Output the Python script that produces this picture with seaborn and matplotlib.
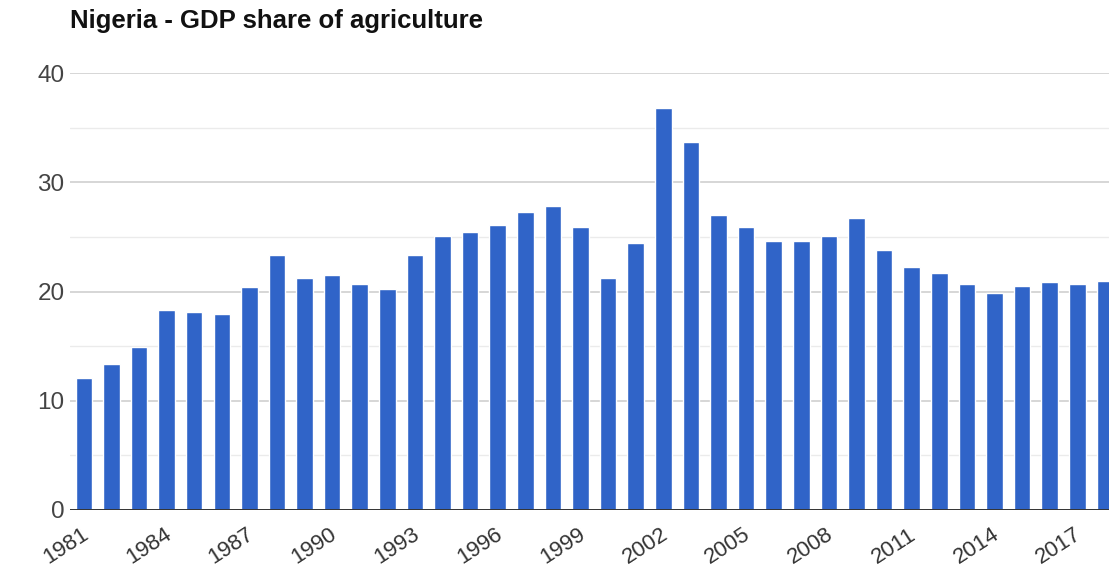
import matplotlib.pyplot as plt
import matplotlib.transforms as mtransforms
import seaborn as sns

# Nigeria, agriculture share of GDP (%)
years = [str(y) for y in range(1981, 2019)]
share = [12.1, 13.4, 14.9, 18.3, 18.1, 17.9, 20.4, 23.3, 21.2, 21.5,
         20.7, 20.2, 23.3, 25.1, 25.45, 26.05, 27.3, 27.8, 25.9, 21.2,
         24.4, 36.8, 33.7, 27.0, 25.9, 24.6, 24.6, 25.1, 26.7, 23.8,
         22.2, 21.7, 20.7, 19.9, 20.5, 20.85, 20.7, 21.0]
y_ticks = [0, 10, 20, 30, 40]
y_minor = [5, 15, 25, 35]

sns.set_style("white")
plt.rcParams['font.family'] = ['Liberation Sans', 'DejaVu Sans']

fig = plt.figure(figsize=(11.09, 5.70), dpi=100)
ax = fig.add_axes([70 / 1109, 60 / 570, 1 - 70 / 1109, 437 / 570])

sns.barplot(x=years, y=share, color="#3064c8", saturation=1,
            width=0.6, ax=ax, zorder=3)

# gridlines
ax.set_ylim(0, 40)
ax.set_xlim(-0.5, 37.15)
ax.set_yticks(y_ticks)
ax.set_yticks(y_minor, minor=True)
ax.grid(axis='y', which='major', color='#cccccc', linewidth=1.1, zorder=0)
ax.grid(axis='y', which='minor', color='#ebebeb', linewidth=1.0, zorder=0)
ax.axhline(0, color='#333333', linewidth=1.4, zorder=4)

for side in ['top', 'right', 'left', 'bottom']:
    ax.spines[side].set_visible(False)

ax.tick_params(axis='y', which='both', length=0, pad=4,
               labelsize=17.5, labelcolor='#444444')
ax.tick_params(axis='x', length=0, pad=10, labelsize=16,
               labelcolor='#333333')

idx = list(range(0, len(years), 3))
ax.set_xticks(idx)
ax.set_xticklabels([years[i] for i in idx], rotation=33,
                   ha='right', rotation_mode='anchor')
shift = mtransforms.ScaledTranslation(-3 / 100, 0, fig.dpi_scale_trans)
for lab in ax.get_xticklabels():
    lab.set_transform(lab.get_transform() + shift)
ax.set_xlabel("")
ax.set_ylabel("")

fig.text(70 / 1109, 1 - 9 / 570, "Nigeria - GDP share of agriculture",
         fontsize=18.5, fontweight='bold', color='#111111', va='top', ha='left')

fig.savefig("out.png", dpi=100)
